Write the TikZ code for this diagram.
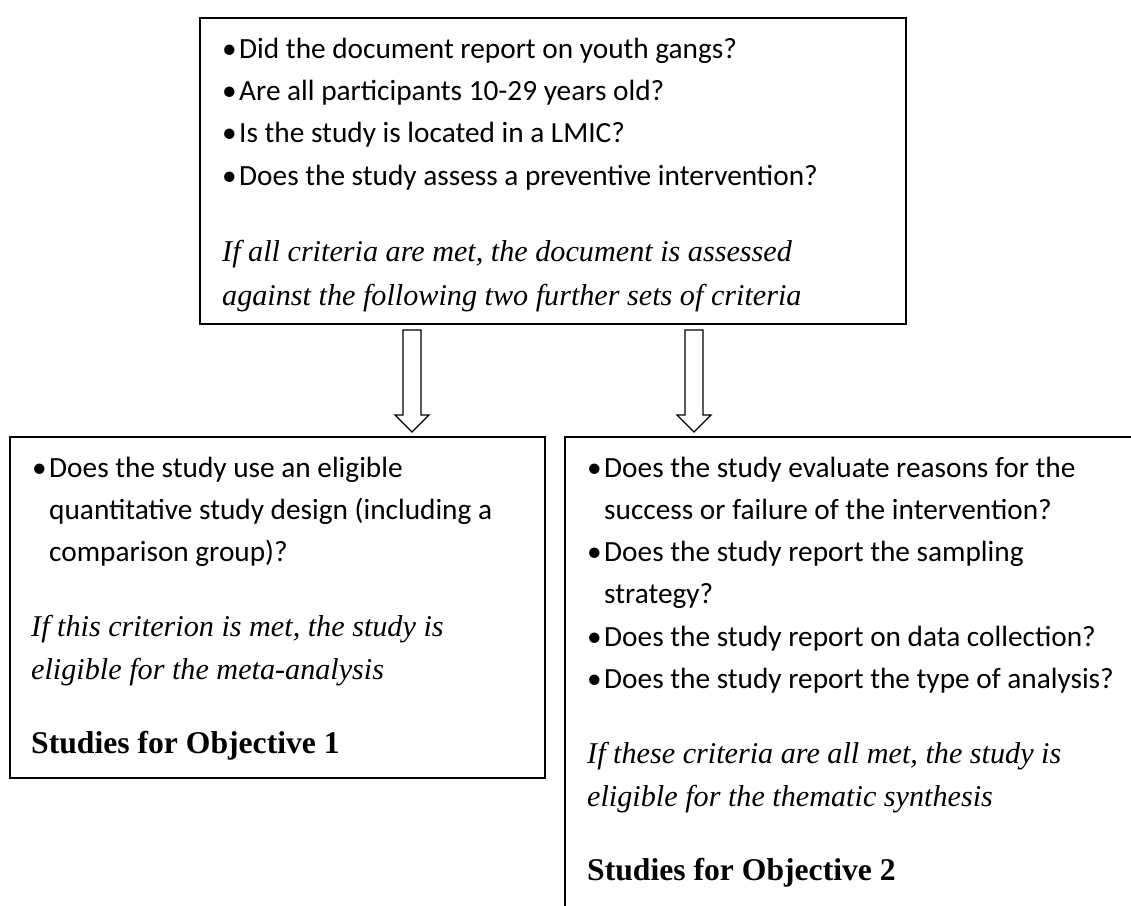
\documentclass[tikz,border=0pt]{standalone}
\usepackage{fontspec}
\setmainfont{Carlito}
\newfontfamily\camfont{Liberation Serif}[Scale=1.03]
\newfontfamily\cambold{Liberation Serif}[Scale=1.08]
\usetikzlibrary{calc}
\begin{document}
\begin{tikzpicture}[x=1pt,y=-1pt]
\tikzset{
  boxline/.style={draw=black, line width=2pt, rectangle, inner sep=0pt},
  bul/.style={anchor=base west, inner sep=0pt, font=\fontsize{29.3}{35}\selectfont},
  itl/.style={anchor=base west, inner sep=0pt, font=\fontsize{29.3}{35}\camfont\itshape},
  bld/.style={anchor=base west, inner sep=0pt, font=\fontsize{29.3}{35}\cambold\bfseries},
  blockarrow/.style={draw=black, line width=1.3pt, fill=white, line join=miter}
}
\useasboundingbox (0,0) rectangle (1131,905);
\fill[white] (0,0) rectangle (1131,905);
\begin{scope}
\clip (0,0) rectangle (1131,905);
% boxes
\node[boxline, minimum width=706pt, minimum height=306pt] (top) at (553,171) {};
\node[boxline, minimum width=535pt, minimum height=341pt] (left) at (277.5,607.5) {};
\node[boxline, minimum width=580pt, minimum height=480pt] (right) at (855,677) {};
\end{scope}
% arrows
\coordinate (a1s) at (412,330);
\coordinate (a1t) at (412,432);
\coordinate (a2s) at (694,330);
\coordinate (a2t) at (694,432);
\draw[blockarrow] ($(a1s)+(-9,0)$) -- ($(a1s)+(9,0)$) -- ($(a1t)+(9,-17)$) -- ($(a1t)+(17,-17)$) -- (a1t) -- ($(a1t)+(-17,-17)$) -- ($(a1t)+(-9,-17)$) -- cycle;
\draw[blockarrow] ($(a2s)+(-9,0)$) -- ($(a2s)+(9,0)$) -- ($(a2t)+(9,-17)$) -- ($(a2t)+(17,-17)$) -- (a2t) -- ($(a2t)+(-17,-17)$) -- ($(a2t)+(-9,-17)$) -- cycle;
% top box text
\node[bul] (t1b) at (222,58) {\textbullet};
\node[bul] (t1) at (239,58) {Did the document report on youth gangs?};
\node[bul] (t2b) at (222,100.3) {\textbullet};
\node[bul] (t2) at (239,100.3) {Are all participants 10-29 years old?};
\node[bul] (t3b) at (222,142.6) {\textbullet};
\node[bul] (t3) at (239,142.6) {Is the study is located in a LMIC?};
\node[bul] (t4b) at (222,185) {\textbullet};
\node[bul] (t4) at (239,185) {Does the study assess a preventive intervention?};
\node[itl] (t5) at (222,261) {If all criteria are met, the document is assessed};
\node[itl] (t6) at (222,305) {against the following two further sets of criteria};
% left box text
\node[bul] (l1b) at (32,477) {\textbullet};
\node[bul] (l1) at (49,477) {Does the study use an eligible};
\node[bul] (l2) at (49,519) {quantitative study design (including a};
\node[bul] (l3) at (49,561) {comparison group)?};
\node[itl] (l4) at (31,636) {If this criterion is met, the study is};
\node[itl] (l5) at (31,679) {eligible for the meta-analysis};
\node[bld] (l6) at (31,753) {Studies for Objective 1};
% right box text
\node[bul] (r1b) at (587,477) {\textbullet};
\node[bul] (r1) at (604,477) {Does the study evaluate reasons for the};
\node[bul] (r2) at (604,519) {success or failure of the intervention?};
\node[bul] (r3b) at (587,561) {\textbullet};
\node[bul] (r3) at (604,561) {Does the study report the sampling};
\node[bul] (r4) at (604,603) {strategy?};
\node[bul] (r5b) at (587,646) {\textbullet};
\node[bul] (r5) at (604,646) {Does the study report on data collection?};
\node[bul] (r6b) at (587,688) {\textbullet};
\node[bul] (r6) at (604,688) {Does the study report the type of analysis?};
\node[itl] (r7) at (587,763) {If these criteria are all met, the study is};
\node[itl] (r8) at (587,806) {eligible for the thematic synthesis};
\node[bld] (r9) at (587,880) {Studies for Objective 2};
\end{tikzpicture}
\end{document}
